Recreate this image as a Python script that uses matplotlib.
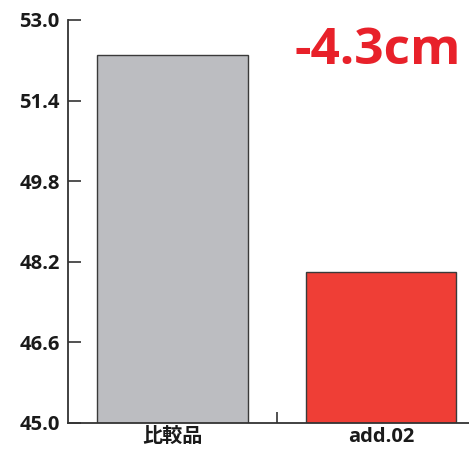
import matplotlib.pyplot as plt
from matplotlib.ticker import FixedLocator

plt.rcParams['font.family'] = ['Open Sans', 'Noto Sans CJK JP', 'DejaVu Sans']

categories = ['比較品', 'add.02']
values = [52.3, 48.0]
colors = ['#bcbdc1', '#ef3e36']
yticks = [45.0, 46.6, 48.2, 49.8, 51.4, 53.0]
diff_label = '-4.3cm'

fig = plt.figure(figsize=(4.69, 4.49), dpi=100)
ax = fig.add_axes([0.145, 0.058, 0.855, 0.8976])

x = range(len(categories))
ax.bar(x, values, width=0.72, color=colors, edgecolor='#3a3a3a', linewidth=1.0)

ax.set_ylim(45.0, 53.0)
ax.set_xlim(-0.5, 1.42)
ax.set_yticks(yticks)
ax.set_yticklabels([f'{v:.1f}' for v in yticks])
ax.set_xticks(list(x))
ax.set_xticklabels(categories)
ax.xaxis.set_minor_locator(FixedLocator([0.5]))

ax.tick_params(axis='y', direction='in', length=9, width=1.2, color='#333333',
               labelsize=14.5, pad=6, labelcolor='#1a1a1a')
ax.tick_params(axis='x', which='major', length=0, labelsize=14.5, pad=3,
               labelcolor='#1a1a1a')
ax.tick_params(axis='x', which='minor', direction='in', length=8, width=1.2,
               color='#333333')
for lab in ax.get_yticklabels() + ax.get_xticklabels():
    lab.set_fontweight('bold')

for side in ['top', 'right']:
    ax.spines[side].set_visible(False)
for side in ['left', 'bottom']:
    ax.spines[side].set_color('#333333')
    ax.spines[side].set_linewidth(1.3)

ax.text(0.98, 0.985, diff_label, transform=ax.transAxes, ha='right', va='top',
        fontsize=37, fontweight='bold', color='#e8212a')

fig.savefig('out.png', dpi=100)
